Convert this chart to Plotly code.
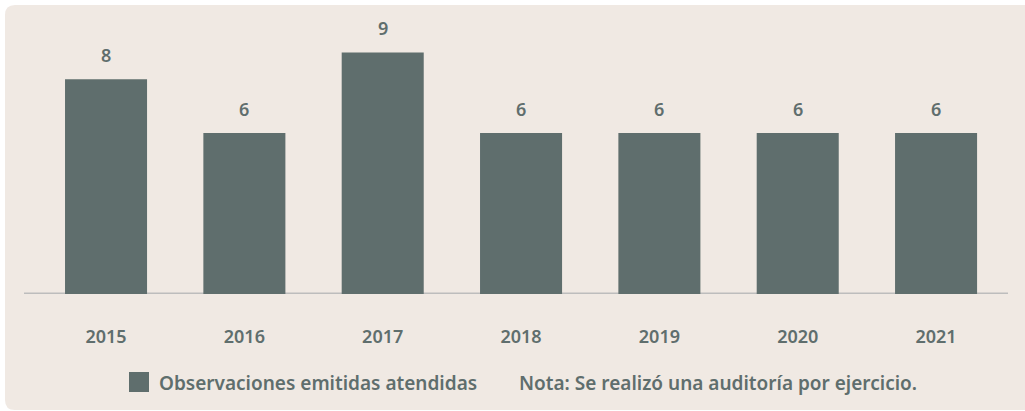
import plotly.graph_objects as go

years = ["2015", "2016", "2017", "2018", "2019", "2020", "2021"]
observaciones = [8, 6, 9, 6, 6, 6, 6]
series_name = "Observaciones emitidas atendidas"
nota = "Nota: Se realizó una auditoría por ejercicio."

W, H = 1025, 411
ML, MR, MT, MB = 24, 17, 31, 117
PW = W - ML - MR
PH = H - MT - MB

def px_x(x):
    return (x - ML) / PW

def px_y(y):
    return (H - MB - y) / PH

def pt(x, y):
    return f"{px_x(x)},{px_y(y)}"

BG = "#F0E9E3"
BAR = "#5F6E6D"
TXT = "#5F6E6D"
FONT = "Noto Sans"

fig = go.Figure()
fig.add_trace(go.Bar(
    x=list(range(len(years))), y=observaciones, name=series_name,
    marker=dict(color=BAR, line=dict(width=0)), width=0.593,
    showlegend=False, hoverinfo="skip",
))

annotations = []
for i, v in enumerate(observaciones):
    annotations.append(dict(
        x=i, y=v, xref="x", yref="y", text=str(v), showarrow=False,
        yanchor="middle", yshift=24,
        font=dict(family=FONT, size=18, color=TXT, weight=600),
    ))

# manual legend
annotations.append(dict(
    x=px_x(157), y=px_y(383), xref="paper", yref="paper", text=series_name,
    showarrow=False, xanchor="left", yanchor="middle",
    font=dict(family=FONT, size=19, color=TXT, weight=600),
))
annotations.append(dict(
    x=px_x(517), y=px_y(383), xref="paper", yref="paper", text=nota,
    showarrow=False, xanchor="left", yanchor="middle",
    font=dict(family=FONT, size=19, color=TXT, weight=600),
))

# white frame around the rounded beige card (card runs off the right edge)
E = W + 40
frame = (f"M {pt(-5,-5)} L {pt(E,-5)} L {pt(E,5)} L {pt(15,5)} "
         f"Q {pt(5,5)} {pt(5,15)} L {pt(5,400)} Q {pt(5,410)} {pt(15,410)} "
         f"L {pt(E,410)} L {pt(E,H+5)} L {pt(-5,H+5)} Z")

shapes = [
    dict(type="path", path=frame, xref="paper", yref="paper",
         fillcolor="white", line=dict(width=0), layer="below"),
    dict(type="line", x0=0, x1=1, y0=0, y1=0, xref="paper", yref="y",
         line=dict(color="#BDBDBD", width=3), layer="below"),
    dict(type="rect", x0=px_x(129), x1=px_x(149), y0=px_y(372), y1=px_y(392),
         xref="paper", yref="paper", fillcolor=BAR, line=dict(width=0)),
]

fig.update_layout(
    width=W, height=H,
    margin=dict(l=ML, r=MR, t=MT, b=MB),
    paper_bgcolor=BG, plot_bgcolor="rgba(0,0,0,0)",
    bargap=0.4,
    xaxis=dict(
        tickmode="array", tickvals=list(range(len(years))), ticktext=years,
        range=[-0.593, 6.52], showgrid=False, zeroline=False, showline=False,
        ticks="", ticklabelstandoff=30,
        tickfont=dict(family=FONT, size=18, color=TXT, weight=600),
    ),
    yaxis=dict(range=[0, 9.8], visible=False, showgrid=False, zeroline=False),
    annotations=annotations,
    shapes=shapes,
    showlegend=False,
)

fig.write_html(
    "out.html",
    config={"displayModeBar": False},
    post_script="document.body.style.margin='0';document.body.style.padding='0';document.body.style.overflow='hidden';",
)
